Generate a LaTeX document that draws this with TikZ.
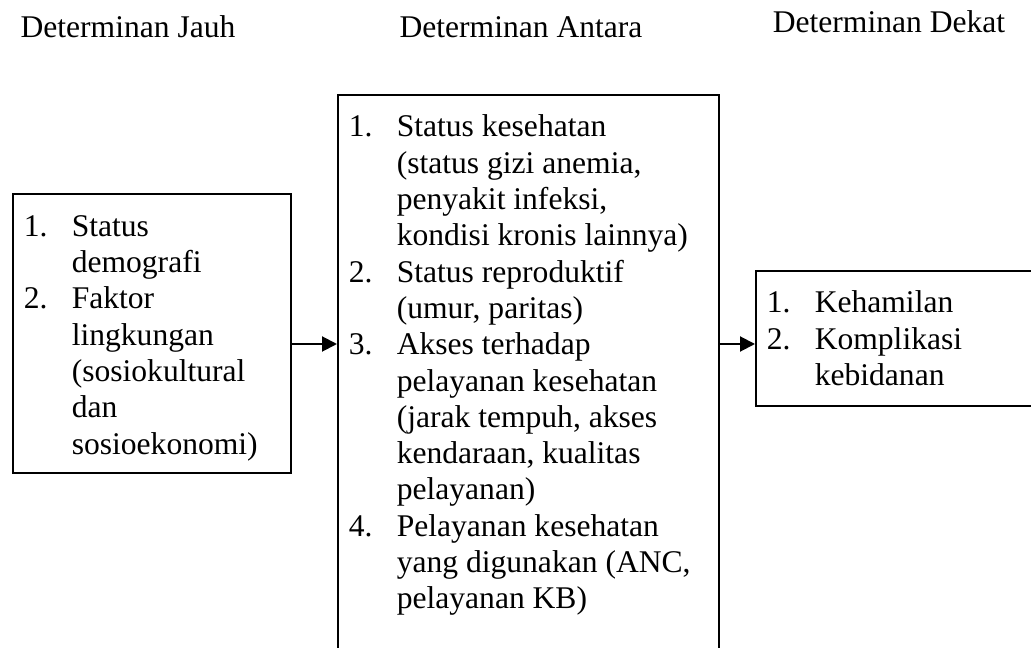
\documentclass[tikz,border=0pt]{standalone}
\usepackage{fontspec}
\setmainfont{Liberation Serif}
\usetikzlibrary{arrows.meta}
\newlength{\px}
\setlength{\px}{0.38pt}
\newenvironment{daftar}{\fontsize{12}{13.8}\selectfont\begin{tabular}{@{\hspace{11\px}}p{48\px}@{}l@{}}}{\end{tabular}}

\begin{document}
\begin{tikzpicture}[x=0.38pt, y=-0.38pt,
        kotak/.style={draw, line width=0.6pt, inner sep=0pt, anchor=north west},
        judul/.style={anchor=base, inner sep=0pt, font=\fontsize{12}{13.8}\selectfont},
        arrow/.style={-{Triangle[length=5.7pt, width=5.7pt]}, line width=0.75pt}
    ]
        \useasboundingbox (0,0) rectangle (1031,648);

        \node[judul] (jauh) at (128,38) {Determinan Jauh};
        \node[judul] (antara) at (521,38) {Determinan Antara};
        \node[judul] (dekat) at (889,33) {Determinan Dekat};

        \node[kotak] (kjauh) at (12,193) {\parbox[c][279\px][t]{278\px}{\vspace*{17\px}\begin{daftar}
            1. & Status\\
               & demografi\\
            2. & Faktor\\
               & lingkungan\\
               & (sosiokultural\\
               & dan\\
               & sosioekonomi)
        \end{daftar}}};
        \node[kotak] (kantara) at (337,94) {\parbox[c][570\px][t]{381\px}{\vspace*{16.6\px}\begin{daftar}
            1. & Status kesehatan\\
               & (status gizi anemia,\\
               & penyakit infeksi,\\
               & kondisi kronis lainnya)\\
            2. & Status reproduktif\\
               & (umur, paritas)\\
            3. & Akses terhadap\\
               & pelayanan kesehatan\\
               & (jarak tempuh, akses\\
               & kendaraan, kualitas\\
               & pelayanan)\\
            4. & Pelayanan kesehatan\\
               & yang digunakan (ANC,\\
               & pelayanan KB)
        \end{daftar}}};
        \node[kotak] (kdekat) at (755,270) {\parbox[c][135\px][t]{290\px}{\vspace*{16.6\px}\begin{daftar}
            1. & Kehamilan\\
            2. & Komplikasi\\
               & kebidanan
        \end{daftar}}};

        \coordinate (panah) at (0,344);
        \draw[arrow] (kjauh.east |- panah) -- (kantara.west |- panah);
        \draw[arrow] (kantara.east |- panah) -- (kdekat.west |- panah);
    \end{tikzpicture}
\end{document}
